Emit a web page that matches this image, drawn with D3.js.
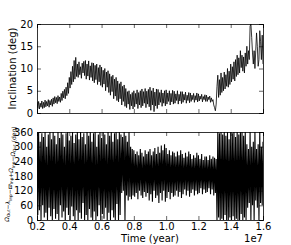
<!DOCTYPE html>
<html>
<head>
<meta charset="utf-8">
<script src="https://d3js.org/d3.v7.min.js"></script>
<style>
  body { margin: 0; background: #fff; }
  svg { font-family: "DejaVu Sans", sans-serif; }
</style>
</head>
<body>
<svg id="chart" width="291" height="245"></svg>
<script>
// time samples in units of 1e7 yr (step 0.005)
const times = d3.range(281).map(i => +(0.2 + i * 0.005).toFixed(3));

// inclination (deg)
const inclination = [
  2.5, 1.0, 2.6, 0.9, 2.2, 1.3, 2.7, 1.0, 2.4, 1.2,
  2.9, 1.4, 2.6, 1.6, 3.0, 1.3, 2.8, 1.8, 3.1, 1.5,
  3.4, 2.0, 3.7, 2.3, 3.5, 2.1, 3.9, 2.6, 3.6, 2.4,
  4.4, 2.8, 4.9, 3.4, 5.3, 3.2, 5.8, 3.9, 6.8, 4.4,
  8.0, 5.6, 9.3, 6.4, 10.5, 7.0, 11.8, 7.6, 12.5, 8.2,
  11.0, 8.0, 11.5, 8.6, 10.4, 7.8, 11.2, 9.0, 11.6, 8.4,
  11.8, 7.6, 11.0, 8.3, 11.7, 7.4, 10.6, 8.0, 11.3, 7.2,
  11.2, 6.8, 10.7, 7.5, 11.0, 6.4, 10.2, 7.0, 10.8, 6.2,
  10.3, 5.8, 9.6, 6.5, 10.0, 5.0, 9.2, 5.8, 9.5, 4.6,
  8.8, 4.0, 8.2, 4.8, 8.5, 3.2, 7.6, 3.8, 8.0, 2.8,
  7.2, 2.5, 6.6, 3.2, 7.0, 1.8, 6.0, 2.6, 6.3, 1.5,
  5.5, 1.2, 4.8, 2.0, 5.0, 0.8, 4.2, 1.6, 4.6, 0.9,
  5.0, 1.4, 4.4, 2.0, 5.2, 1.0, 4.6, 1.8, 5.0, 1.2,
  5.4, 1.6, 4.8, 2.2, 5.5, 1.2, 4.9, 2.0, 5.3, 1.4,
  5.8, 0.6, 5.0, 1.8, 5.6, 0.3, 4.7, 1.6, 5.4, 1.0,
  5.3, 1.8, 4.6, 2.4, 5.2, 1.5, 4.5, 2.2, 5.0, 1.6,
  5.2, 2.0, 4.5, 2.6, 5.0, 1.8, 4.4, 2.5, 5.1, 2.0,
  4.9, 2.2, 4.3, 2.8, 5.0, 2.0, 4.2, 2.7, 4.8, 2.1,
  4.8, 2.4, 4.2, 2.9, 4.7, 2.2, 4.0, 2.8, 4.6, 2.3,
  4.5, 2.6, 4.0, 3.0, 4.4, 2.4, 3.9, 2.9, 4.5, 2.5,
  4.3, 2.7, 3.8, 3.1, 4.2, 2.5, 3.7, 3.0, 4.1, 2.6,
  4.0, 2.6, 3.6, 3.0, 3.8, 2.4, 3.4, 2.6, 3.0, 1.8,
  1.2, 0.5, 2.0, 6.0, 8.5, 3.5, 7.5, 4.0, 9.0, 4.6,
  8.0, 5.0, 9.2, 5.4, 8.6, 6.0, 10.0, 5.8, 9.4, 6.4,
  11.0, 7.0, 10.4, 7.6, 11.5, 7.2, 12.0, 8.2, 13.0, 8.6,
  12.4, 9.0, 14.0, 10.2, 13.0, 9.4, 12.6, 9.0, 13.5, 10.5,
  15.0, 11.0, 14.0, 12.0, 19.5, 20.0, 17.0, 13.5, 11.0, 14.0,
  10.0, 14.0, 18.0, 15.0, 10.5, 12.0, 18.5, 16.0, 12.0, 17.5,
  11.0
];

// resonant angle (deg), lower panel
const angle = [
  350, 20, 360, 40, 320, 0, 355, 60, 340, 10,
  360, 30, 300, 0, 350, 50, 360, 15, 330, 0,
  360, 45, 345, 5, 310, 25, 360, 0, 335, 60,
  360, 10, 350, 35, 300, 0, 355, 50, 360, 20,
  325, 0, 345, 55, 360, 15, 315, 0, 350, 40,
  360, 0, 330, 30, 360, 5, 340, 70, 355, 0,
  310, 20, 360, 0, 345, 45, 360, 10, 320, 0,
  355, 35, 360, 0, 300, 15, 350, 60, 360, 0,
  335, 25, 360, 5, 350, 50, 310, 0, 360, 30,
  345, 0, 360, 40, 320, 10, 355, 0, 360, 65,
  330, 0, 360, 20, 350, 110, 340, 120, 360, 0,
  345, 100, 320, 80, 360, 95, 300, 85, 290, 100,
  285, 95, 270, 110, 280, 85, 265, 120, 290, 100,
  275, 90, 260, 115, 285, 95, 270, 110, 280, 80,
  290, 105, 265, 75, 280, 120, 295, 90, 270, 100,
  300, 70, 275, 110, 305, 80, 285, 120, 310, 75,
  295, 90, 270, 115, 285, 85, 265, 110, 280, 95,
  275, 100, 260, 120, 280, 95, 265, 115, 285, 90,
  270, 105, 255, 125, 275, 100, 260, 120, 280, 95,
  270, 110, 250, 125, 265, 100, 255, 120, 275, 105,
  265, 110, 250, 130, 270, 105, 245, 125, 260, 110,
  260, 115, 245, 130, 265, 105, 250, 125, 260, 100,
  255, 110, 250, 0, 360, 10, 355, 0, 360, 5,
  350, 0, 360, 20, 345, 0, 360, 0, 330, 10,
  360, 0, 355, 15, 360, 0, 340, 5, 360, 0,
  350, 0, 360, 25, 360, 0, 345, 10, 360, 0,
  310, 50, 290, 70, 360, 0, 300, 60, 320, 0,
  360, 80, 290, 50, 310, 0, 360, 70, 300, 60,
  320
];

const incTicks = [0, 5, 10, 15, 20];
const angTicks = [0, 60, 120, 180, 240, 300, 360];
const timeTicks = [0.2, 0.4, 0.6, 0.8, 1.0, 1.2, 1.4, 1.6];

const svg = d3.select('#chart');
const left = 37, right = 263;

const x = d3.scaleLinear().domain([0.2, 1.6]).range([left, right]);
const yTop = d3.scaleLinear().domain([0, 20]).range([113, 24]);
const yBot = d3.scaleLinear().domain([0, 360]).range([220, 132]);

function panel(y, ticks, values, showX, lw) {
  const g = svg.append('g');
  const clipId = 'clip' + Math.round(y.range()[1]);
  g.append('clipPath').attr('id', clipId)
    .append('rect')
    .attr('x', left).attr('y', y.range()[1])
    .attr('width', right - left).attr('height', y.range()[0] - y.range()[1]);

  const line = d3.line().x((d, i) => x(times[i])).y(d => y(d));
  g.append('path')
    .datum(values)
    .attr('clip-path', `url(#${clipId})`)
    .attr('d', line)
    .attr('fill', 'none')
    .attr('stroke', '#000')
    .attr('stroke-width', lw);

  // inward ticks on all four sides
  const axL = d3.axisLeft(y).tickValues(ticks).tickSize(-4).tickPadding(4).tickFormat(d3.format('d'));
  const axR = d3.axisRight(y).tickValues(ticks).tickSize(-4).tickFormat('');
  const axB = d3.axisBottom(x).tickValues(timeTicks).tickSize(-4).tickPadding(3)
    .tickFormat(showX ? d3.format('.1f') : '');
  const axT = d3.axisTop(x).tickValues(timeTicks).tickSize(-4).tickFormat('');

  const gl = g.append('g').attr('transform', `translate(${left},0)`).call(axL);
  const gr = g.append('g').attr('transform', `translate(${right},0)`).call(axR);
  const gb = g.append('g').attr('transform', `translate(0,${y.range()[0]})`).call(axB);
  const gt = g.append('g').attr('transform', `translate(0,${y.range()[1]})`).call(axT);
  [gl, gr, gb, gt].forEach(a => {
    a.selectAll('.domain').attr('stroke', '#000').attr('stroke-width', 0.8);
    a.selectAll('.tick line').attr('stroke', '#000').attr('stroke-width', 0.6);
    a.selectAll('text').attr('font-size', 10).attr('fill', '#000')
      .attr('font-family', '"DejaVu Sans", sans-serif');
  });
  return g;
}

panel(yTop, incTicks, inclination, false, 0.8);
panel(yBot, angTicks, angle, true, 1.1);

// axis labels
svg.append('text')
  .attr('transform', 'translate(16,68.5) rotate(-90)')
  .attr('text-anchor', 'middle')
  .attr('font-size', 10)
  .text('Inclination (deg)');

svg.append('text')
  .attr('x', 150).attr('y', 242)
  .attr('text-anchor', 'middle')
  .attr('font-size', 10)
  .text('Time (year)');

svg.append('text')
  .attr('x', right).attr('y', 242)
  .attr('text-anchor', 'end')
  .attr('font-size', 10)
  .text('1e7');

const lab = svg.append('text')
  .attr('transform', 'translate(9,174) rotate(-90)')
  .attr('text-anchor', 'middle')
  .attr('font-size', 6);
const parts = [['Ω', 'Out'], ['−λ', 'Inp'], ['−ϖ', 'Inp'], ['+Ω', 'Inp'], ['−Ω', 'Out']];
parts.forEach(([sym, sub]) => {
  lab.append('tspan').attr('font-style', 'italic').text(sym);
  lab.append('tspan').attr('font-size', 4.2).attr('dy', 1.4).text(sub);
  lab.append('tspan').attr('dy', -1.4).text('');
});
lab.append('tspan').text(' (deg)');
</script>
</body>
</html>
